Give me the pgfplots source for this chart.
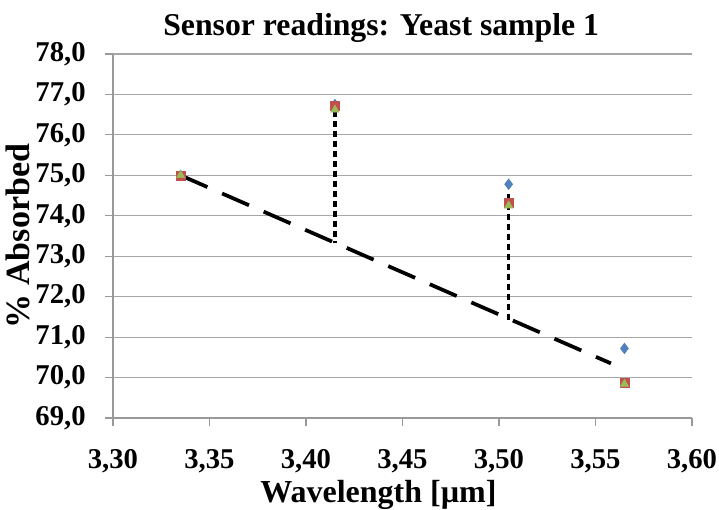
\documentclass[border=0pt]{standalone}
\usepackage{pgfplots}
\pgfplotsset{compat=1.18}
\usepackage{fontspec}
\setmainfont{Liberation Serif}
\definecolor{xlblue}{HTML}{4F81BD}
\definecolor{xlred}{HTML}{C0504D}
\definecolor{xlgreen}{HTML}{9BBB59}
\begin{document}
\begin{tikzpicture}
\begin{axis}[
  at={(0pt,0pt)}, anchor=south west,
  scale only axis, width=434.25pt, height=273pt,
  xmin=3.30, xmax=3.60, ymin=69, ymax=78,
  xtick={3.30,3.35,...,3.60}, ytick={69,70,...,78},
  axis x line*=bottom, axis y line*=left,
  axis line style={gray!80, line width=0.8pt},
  ymajorgrids, grid style={gray!70, line width=0.8pt},
  tick style={gray!80, line width=0.8pt},
  tick align=outside, major tick length=6pt,
  ticklabel style={font=\fontsize{21.5}{24}\selectfont\bfseries},
  xticklabel style={yshift=-14pt, /pgf/number format/.cd, fixed, fixed zerofill, precision=2, use comma, assume math mode=true},
  yticklabel style={xshift=-11pt, /pgf/number format/.cd, fixed, fixed zerofill, precision=1, use comma, assume math mode=true},
  title={Sensor readings: Yeast sample 1},
  title style={font=\fontsize{23.8}{26}\selectfont\bfseries, yshift=-1pt, xshift=-16pt},
  xlabel={Wavelength [µm]},
  ylabel={\% Absorbed},
  label style={font=\fontsize{24}{26}\selectfont\bfseries},
  xlabel style={yshift=1.5pt, xshift=-18pt},
  ylabel style={yshift=-2.5pt, font=\fontsize{25.5}{28}\selectfont\bfseries},
  clip=false,
]
\addplot[black, line width=2.8pt, dash pattern=on 22pt off 12pt] coordinates {(3.335,75.0) (3.558,70.35)};
\addplot[black, line width=2.5pt, dash pattern=on 4.5pt off 3pt] coordinates {(3.415,76.6) (3.415,73.32)};
\addplot[black, line width=2.5pt, dash pattern=on 4.5pt off 3pt] coordinates {(3.505,74.55) (3.505,71.43)};
\addplot[only marks, mark=diamond*, mark size=4pt, color=xlblue] coordinates {(3.335,75.0) (3.415,76.75) (3.505,74.78) (3.565,70.72)};
\addplot[only marks, mark=square*, mark size=3.3pt, color=xlred] coordinates {(3.335,74.98) (3.415,76.72) (3.505,74.33) (3.565,69.88)};
\addplot[only marks, mark=triangle*, mark size=3.6pt, color=xlgreen] coordinates {(3.335,75.0) (3.415,76.62) (3.505,74.25) (3.565,69.84)};
\end{axis}
\pgfresetboundingbox
\useasboundingbox (-84.75pt,-69pt) rectangle ++(539.25pt,382.5pt);
\end{tikzpicture}
\end{document}
